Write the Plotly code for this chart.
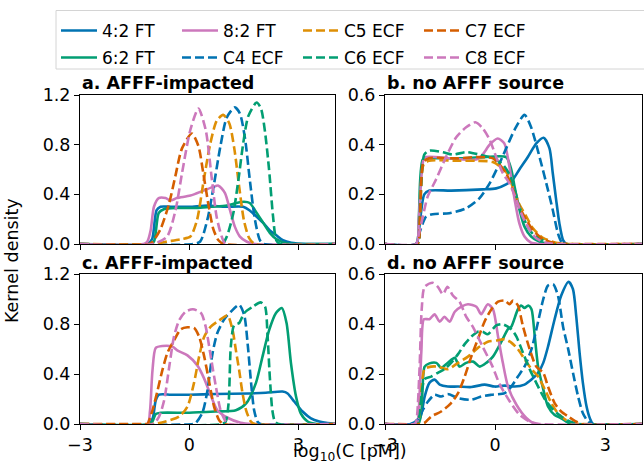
import plotly.graph_objects as go

# ---------------- data ----------------
SERIES = ["4:2 FT", "6:2 FT", "8:2 FT", "C4 ECF", "C5 ECF", "C6 ECF", "C7 ECF", "C8 ECF"]
COLORS = ["#0173b2", "#029e73", "#cc78bc", "#0173b2", "#de8f05", "#029e73", "#d55e00", "#cc78bc"]
DASHED = [False, False, False, True, True, True, True, True]
LEGEND_ROW = ["legend", "legend2", "legend", "legend2", "legend", "legend2", "legend", "legend2"]
TITLES = ["a. AFFF-impacted", "b. no AFFF source", "c. AFFF-impacted", "d. no AFFF source"]
X_TICKS = [-3, 0, 3]

# panel a
a_x_ft42 = [-3, -1.15, -1.02, -0.9, -0.79, -0.5, 0, 0.5, 1.0, 1.48, 1.66, 1.85, 2.03, 2.21, 2.39, 2.57, 2.8, 3.2, 4]
a_y_ft42 = [0, 0, 0.04, 0.27, 0.30, 0.30, 0.30, 0.31, 0.30, 0.30, 0.27, 0.22, 0.17, 0.11, 0.07, 0.03, 0.01, 0, 0]
a_x_ft62 = [-3, -1.1, -0.97, -0.84, -0.7, -0.3, 0.2, 0.6, 1.03, 1.3, 1.5, 1.66, 1.85, 2.03, 2.21, 2.39, 2.66, 3.0, 4]
a_y_ft62 = [0, 0, 0.02, 0.25, 0.28, 0.29, 0.29, 0.30, 0.31, 0.33, 0.34, 0.33, 0.25, 0.17, 0.09, 0.04, 0.005, 0, 0]
a_x_ft82 = [-3, -1.25, -1.15, -1.06, -0.97, -0.84, -0.65, -0.52, -0.34, 0.03, 0.39, 0.66, 0.8, 0.98, 1.12, 1.25, 1.39, 1.57, 1.8, 4]
a_y_ft82 = [0, 0, 0.02, 0.11, 0.30, 0.37, 0.37, 0.35, 0.37, 0.39, 0.43, 0.46, 0.47, 0.41, 0.27, 0.14, 0.06, 0.02, 0, 0]
a_x_c4 = [-3, 0.1, 0.3, 0.5, 0.66, 0.85, 1.03, 1.25, 1.39, 1.53, 1.66, 1.8, 1.94, 2.05, 4]
a_y_c4 = [0, 0, 0.02, 0.2, 0.45, 0.78, 1.02, 1.10, 1.05, 0.85, 0.52, 0.2, 0.03, 0, 0]
a_x_c5 = [-3, -1.0, -0.6, -0.2, 0.03, 0.21, 0.39, 0.57, 0.75, 0.93, 1.1, 1.24, 1.37, 1.5, 1.64, 1.8, 4]
a_y_c5 = [0, 0, 0.02, 0.04, 0.06, 0.19, 0.50, 0.80, 0.99, 1.04, 0.97, 0.76, 0.46, 0.19, 0.05, 0, 0]
a_x_c6 = [-3, 0.9, 1.03, 1.21, 1.35, 1.48, 1.62, 1.85, 1.97, 2.08, 2.19, 2.3, 2.39, 2.5, 4]
a_y_c6 = [0, 0, 0.06, 0.25, 0.52, 0.81, 1.03, 1.14, 1.09, 0.9, 0.6, 0.22, 0.03, 0, 0]
a_x_c7 = [-3, -1.1, -1.0, -0.79, -0.56, -0.38, -0.2, 0.07, 0.25, 0.39, 0.53, 0.66, 0.8, 0.95, 4]
a_y_c7 = [0, 0, 0.02, 0.12, 0.32, 0.55, 0.77, 0.89, 0.79, 0.56, 0.31, 0.12, 0.03, 0, 0]
a_x_c8 = [-3, -1.0, -0.61, -0.38, -0.2, 0.03, 0.25, 0.45, 0.62, 0.75, 0.89, 1.0, 4]
a_y_c8 = [0, 0, 0.06, 0.27, 0.57, 0.92, 1.09, 0.92, 0.52, 0.22, 0.06, 0, 0]

# panel b
b_x_ft42 = [-3, -2.15, -2.08, -1.93, -1.79, -1.2, -0.34, 0.03, 0.3, 0.48, 0.66, 0.89, 1.12, 1.32, 1.48, 1.57, 1.66, 1.75, 1.85, 1.95, 4]
b_y_ft42 = [0, 0, 0.05, 0.20, 0.215, 0.215, 0.22, 0.224, 0.24, 0.26, 0.30, 0.35, 0.405, 0.428, 0.385, 0.285, 0.18, 0.083, 0.016, 0, 0]
b_x_ft62 = [-3, -2.15, -2.08, -1.97, -1.8, -1.0, -0.3, 0.3, 0.44, 0.53, 0.66, 0.8, 0.98, 1.2, 1.5, 4]
b_y_ft62 = [0, 0, 0.1, 0.34, 0.345, 0.345, 0.35, 0.35, 0.30, 0.23, 0.14, 0.07, 0.03, 0.01, 0, 0]
b_x_ft82 = [-3, -2.15, -2.08, -1.95, -1.88, -1.2, -0.52, -0.34, -0.15, 0.07, 0.25, 0.39, 0.53, 0.66, 0.8, 0.98, 1.2, 4]
b_y_ft82 = [0, 0, 0.1, 0.34, 0.35, 0.345, 0.34, 0.36, 0.40, 0.425, 0.405, 0.31, 0.18, 0.083, 0.03, 0.005, 0, 0]
b_x_c4 = [-3, -2.15, -2.05, -1.88, -1.7, -1.25, -0.79, -0.43, -0.15, 0.12, 0.3, 0.53, 0.8, 0.98, 1.21, 1.44, 1.57, 1.71, 1.8, 1.9, 4]
b_y_c4 = [0, 0, 0.05, 0.11, 0.12, 0.124, 0.144, 0.184, 0.244, 0.325, 0.385, 0.46, 0.52, 0.47, 0.35, 0.217, 0.137, 0.043, 0.01, 0, 0]
b_x_c5 = [-3, -2.12, -2.05, -1.95, -1.8, -1.0, -0.5, -0.06, 0.3, 0.48, 0.66, 0.85, 1.03, 1.3, 1.66, 2.0, 4]
b_y_c5 = [0, 0, 0.1, 0.32, 0.335, 0.335, 0.335, 0.33, 0.29, 0.23, 0.16, 0.11, 0.063, 0.025, 0.005, 0, 0]
b_x_c6 = [-3, -2.12, -2.05, -1.93, -1.79, -1.43, -1.15, -0.79, -0.43, -0.06, 0.21, 0.39, 0.53, 0.66, 0.85, 1.03, 1.3, 1.6, 4]
b_y_c6 = [0, 0, 0.12, 0.36, 0.376, 0.37, 0.36, 0.37, 0.36, 0.345, 0.32, 0.28, 0.22, 0.15, 0.08, 0.04, 0.015, 0, 0]
b_x_c7 = [-3, -2.12, -2.05, -1.95, -1.8, -1.0, -0.5, -0.06, 0.12, 0.3, 0.48, 0.66, 0.85, 1.03, 1.3, 1.66, 2.0, 4]
b_y_c7 = [0, 0, 0.1, 0.33, 0.345, 0.345, 0.35, 0.345, 0.32, 0.285, 0.22, 0.15, 0.097, 0.056, 0.02, 0.003, 0, 0]
b_x_c8 = [-3, -2.15, -2.11, -1.97, -1.84, -1.61, -1.34, -1.06, -0.79, -0.54, -0.34, -0.15, 0.03, 0.21, 0.39, 0.57, 0.75, 0.94, 1.12, 1.39, 1.7, 4]
b_y_c8 = [0, 0, 0.02, 0.11, 0.19, 0.26, 0.35, 0.43, 0.47, 0.49, 0.466, 0.42, 0.35, 0.285, 0.244, 0.18, 0.11, 0.056, 0.023, 0.005, 0, 0]

# panel c
c_x_ft42 = [-3, -1.1, -1.0, -0.92, -0.83, -0.5, 0, 0.73, 1.64, 2.1, 2.56, 2.7, 2.88, 3.11, 3.34, 3.57, 3.8, 4]
c_y_ft42 = [0, 0, 0.05, 0.19, 0.235, 0.235, 0.235, 0.24, 0.245, 0.25, 0.26, 0.245, 0.18, 0.10, 0.045, 0.02, 0.008, 0.003]
c_x_ft62 = [-3, -1.1, -1.01, -0.92, -0.78, 0, 0.73, 1.28, 1.56, 1.83, 2.01, 2.19, 2.38, 2.54, 2.67, 2.79, 2.93, 3.06, 3.25, 3.5, 4]
c_y_ft62 = [0, 0, 0.02, 0.08, 0.09, 0.09, 0.10, 0.11, 0.165, 0.33, 0.54, 0.75, 0.89, 0.93, 0.81, 0.49, 0.22, 0.085, 0.02, 0, 0]
c_x_ft82 = [-3, -1.15, -1.08, -1.01, -0.92, -0.74, -0.46, -0.33, -0.05, 0.22, 0.4, 0.59, 0.77, 1.05, 1.41, 1.7, 4]
c_y_ft82 = [0, 0, 0.1, 0.43, 0.61, 0.625, 0.62, 0.59, 0.55, 0.47, 0.37, 0.23, 0.11, 0.05, 0.01, 0, 0]
c_x_c4 = [-3, 0.1, 0.18, 0.36, 0.5, 0.64, 0.77, 0.96, 1.14, 1.37, 1.51, 1.6, 1.69, 1.78, 1.87, 1.95, 4]
c_y_c4 = [0, 0, 0.01, 0.09, 0.27, 0.57, 0.73, 0.84, 0.90, 0.955, 0.87, 0.65, 0.35, 0.11, 0.02, 0, 0]
c_x_c5 = [-3, -1.0, -0.65, -0.28, -0.05, 0.13, 0.27, 0.41, 0.59, 0.82, 1.05, 1.19, 1.28, 1.37, 1.46, 1.56, 1.69, 1.8, 4]
c_y_c5 = [0, 0, 0.02, 0.06, 0.14, 0.33, 0.54, 0.70, 0.78, 0.83, 0.87, 0.75, 0.59, 0.43, 0.25, 0.11, 0.02, 0, 0]
c_x_c6 = [-3, 0.9, 1.0, 1.08, 1.14, 1.23, 1.37, 1.51, 1.74, 1.96, 2.08, 2.15, 2.21, 2.28, 2.35, 2.45, 4]
c_y_c6 = [0, 0, 0.02, 0.17, 0.62, 0.79, 0.81, 0.89, 0.94, 0.975, 0.94, 0.70, 0.38, 0.11, 0.02, 0, 0]
c_x_c7 = [-3, -1.2, -1.15, -1.01, -0.87, -0.74, -0.6, -0.42, -0.23, -0.05, 0.13, 0.27, 0.41, 0.55, 0.68, 0.82, 0.95, 4]
c_y_c7 = [0, 0, 0.0, 0.11, 0.27, 0.43, 0.57, 0.67, 0.76, 0.775, 0.77, 0.70, 0.54, 0.33, 0.14, 0.03, 0, 0]
c_x_c8 = [-3, -1.0, -0.83, -0.69, -0.55, -0.42, -0.28, -0.1, 0.1, 0.32, 0.45, 0.59, 0.73, 0.86, 1.0, 1.1, 4]
c_y_c8 = [0, 0, 0.06, 0.19, 0.46, 0.70, 0.83, 0.90, 0.92, 0.89, 0.78, 0.54, 0.30, 0.11, 0.02, 0, 0]

# panel d
d_x_ft42 = [-3, -2.3, -2.1, -2.01, -1.92, -1.79, -1.65, -1.51, -1.29, -1.01, -0.65, -0.29, -0.01, 0.26, 0.53, 0.8, 0.99, 1.17, 1.31, 1.44, 1.62, 1.8, 2.0, 2.12, 2.21, 2.3, 2.39, 2.49, 2.58, 2.67, 4]
d_y_ft42 = [0, 0, 0.01, 0.04, 0.11, 0.165, 0.178, 0.158, 0.15, 0.15, 0.148, 0.158, 0.15, 0.154, 0.15, 0.158, 0.178, 0.205, 0.245, 0.31, 0.42, 0.515, 0.57, 0.54, 0.43, 0.285, 0.165, 0.07, 0.023, 0, 0]
d_x_ft62 = [-3, -2.1, -2.01, -1.92, -1.79, -1.6, -1.47, -1.29, -1.1, -0.97, -0.79, -0.6, -0.42, -0.24, -0.06, 0.17, 0.35, 0.44, 0.62, 0.71, 0.8, 0.9, 0.99, 1.08, 1.17, 1.31, 1.44, 1.62, 1.8, 1.99, 2.2, 4]
d_y_ft62 = [0, 0, 0.05, 0.23, 0.243, 0.245, 0.225, 0.245, 0.265, 0.23, 0.245, 0.25, 0.23, 0.245, 0.27, 0.33, 0.38, 0.39, 0.46, 0.475, 0.465, 0.475, 0.46, 0.35, 0.23, 0.14, 0.07, 0.036, 0.023, 0.005, 0, 0]
d_x_ft82 = [-3, -2.15, -2.1, -2.01, -1.94, -1.79, -1.65, -1.51, -1.38, -1.24, -1.1, -0.92, -0.74, -0.51, -0.38, -0.2, -0.06, 0.08, 0.21, 0.35, 0.58, 0.85, 1.1, 4]
d_y_ft82 = [0, 0, 0.02, 0.29, 0.42, 0.42, 0.44, 0.41, 0.43, 0.41, 0.45, 0.47, 0.48, 0.47, 0.44, 0.48, 0.46, 0.35, 0.245, 0.15, 0.077, 0.024, 0, 0]
d_x_c4 = [-3, -2.3, -2.1, -1.97, -1.83, -1.65, -1.47, -1.29, -1.01, -0.65, -0.38, -0.1, 0.26, 0.44, 0.62, 0.8, 0.99, 1.17, 1.31, 1.44, 1.58, 1.71, 1.85, 1.99, 2.12, 2.26, 2.39, 2.53, 2.65, 4]
d_y_c4 = [0, 0, 0.02, 0.057, 0.09, 0.117, 0.11, 0.12, 0.104, 0.097, 0.11, 0.117, 0.124, 0.15, 0.19, 0.23, 0.30, 0.41, 0.50, 0.555, 0.56, 0.515, 0.39, 0.30, 0.205, 0.11, 0.043, 0.01, 0, 0]
d_x_c5 = [-3, -2.12, -2.05, -1.92, -1.74, -1.56, -1.29, -1.01, -0.74, -0.47, -0.2, 0.05, 0.26, 0.44, 0.62, 0.8, 0.99, 1.17, 1.35, 1.53, 1.71, 1.9, 2.08, 2.3, 4]
d_y_c5 = [0, 0, 0.05, 0.22, 0.23, 0.23, 0.22, 0.245, 0.27, 0.305, 0.33, 0.335, 0.34, 0.326, 0.30, 0.26, 0.22, 0.19, 0.14, 0.084, 0.043, 0.019, 0.005, 0, 0]
d_x_c6 = [-3, -2.12, -2.06, -1.92, -1.74, -1.56, -1.38, -1.2, -1.01, -0.83, -0.65, -0.47, -0.34, -0.2, 0.03, 0.2, 0.44, 0.58, 0.76, 0.94, 1.12, 1.35, 1.58, 1.8, 2.03, 2.3, 4]
d_y_c6 = [0, 0, 0.04, 0.18, 0.19, 0.205, 0.22, 0.245, 0.28, 0.32, 0.35, 0.37, 0.37, 0.36, 0.395, 0.40, 0.38, 0.35, 0.285, 0.22, 0.165, 0.10, 0.057, 0.03, 0.01, 0, 0]
d_x_c7 = [-3, -2.1, -1.92, -1.74, -1.47, -1.2, -1.01, -0.83, -0.65, -0.47, -0.29, -0.1, 0.08, 0.26, 0.39, 0.49, 0.62, 0.76, 0.94, 1.12, 1.31, 1.44, 1.62, 1.8, 1.99, 2.17, 2.35, 4]
d_y_c7 = [0, 0, 0.005, 0.03, 0.05, 0.084, 0.124, 0.19, 0.27, 0.34, 0.41, 0.46, 0.49, 0.495, 0.48, 0.495, 0.475, 0.39, 0.30, 0.23, 0.205, 0.15, 0.084, 0.05, 0.03, 0.013, 0, 0]
d_x_c8 = [-3, -2.2, -2.15, -2.06, -2.0, -1.92, -1.7, -1.56, -1.42, -1.3, -1.15, -0.97, -0.79, -0.61, -0.34, -0.07, 0.12, 0.4, 0.67, 0.94, 1.2, 4]
d_y_c8 = [0, 0, 0.01, 0.22, 0.46, 0.55, 0.566, 0.55, 0.52, 0.55, 0.515, 0.49, 0.43, 0.39, 0.31, 0.23, 0.16, 0.09, 0.036, 0.01, 0, 0]

PANELS = [
    [(a_x_ft42, a_y_ft42), (a_x_ft62, a_y_ft62), (a_x_ft82, a_y_ft82), (a_x_c4, a_y_c4),
     (a_x_c5, a_y_c5), (a_x_c6, a_y_c6), (a_x_c7, a_y_c7), (a_x_c8, a_y_c8)],
    [(b_x_ft42, b_y_ft42), (b_x_ft62, b_y_ft62), (b_x_ft82, b_y_ft82), (b_x_c4, b_y_c4),
     (b_x_c5, b_y_c5), (b_x_c6, b_y_c6), (b_x_c7, b_y_c7), (b_x_c8, b_y_c8)],
    [(c_x_ft42, c_y_ft42), (c_x_ft62, c_y_ft62), (c_x_ft82, c_y_ft82), (c_x_c4, c_y_c4),
     (c_x_c5, c_y_c5), (c_x_c6, c_y_c6), (c_x_c7, c_y_c7), (c_x_c8, c_y_c8)],
    [(d_x_ft42, d_y_ft42), (d_x_ft62, d_y_ft62), (d_x_ft82, d_y_ft82), (d_x_c4, d_y_c4),
     (d_x_c5, d_y_c5), (d_x_c6, d_y_c6), (d_x_c7, d_y_c7), (d_x_c8, d_y_c8)],
]
Y_MAX = [1.2, 0.6, 1.2, 0.6]
Y_DTICK = [0.4, 0.2, 0.4, 0.2]

# ---------------- layout geometry (pixels) ----------------
W, H = 644, 466
ML, MR = 56, 2
PW = W - ML - MR
X_PX = [(80, 335), (385, 642), (80, 335), (385, 642)]
Y_PX = [(95, 244), (95, 244), (274.3, 424), (274.3, 424)]
FONT = "DejaVu Sans"


def fx(px):
    return (px - ML) / PW


def fy(py):
    return 1 - py / H


fig = go.Figure()
for p, panel in enumerate(PANELS):
    sfx = "" if p == 0 else str(p + 1)
    for i, (xs, ys) in enumerate(panel):
        fig.add_trace(go.Scatter(
            x=xs, y=ys, mode="lines", name=SERIES[i],
            line=dict(color=COLORS[i], width=2.6, shape="spline", smoothing=0.7,
                      dash="9px,4px" if DASHED[i] else "solid"),
            xaxis="x" + sfx, yaxis="y" + sfx,
            showlegend=(p == 0), legend=LEGEND_ROW[i], hoverinfo="skip",
        ))

legend_common = dict(orientation="h", x=0, xanchor="left", yanchor="middle",
                     entrywidth=70, entrywidthmode="pixels", itemwidth=36,
                     bgcolor="rgba(0,0,0,0)", borderwidth=0,
                     font=dict(family=FONT, size=17, color="black"))

layout = dict(
    width=W, height=H, margin=dict(l=ML, r=MR, t=0, b=0),
    paper_bgcolor="white", plot_bgcolor="white", template="none",
    font=dict(family=FONT, size=17.5, color="black"),
    showlegend=True,
    legend=dict(legend_common, y=fy(31)),
    legend2=dict(legend_common, y=fy(58)),
)
annotations = []
for p in range(4):
    sfx = "" if p == 0 else str(p + 1)
    x0, x1 = X_PX[p]
    y0, y1 = Y_PX[p]
    layout["xaxis" + sfx] = dict(
        domain=[fx(x0), fx(x1)], range=[-3, 4], anchor="y" + sfx,
        tickvals=X_TICKS, showticklabels=(p >= 2), ticks="outside", ticklen=5,
        tickwidth=1, tickcolor="black", showline=True, linecolor="black", linewidth=1,
        mirror=True, showgrid=False, zeroline=False, automargin=False,
        tickfont=dict(size=17.5),
    )
    layout["yaxis" + sfx] = dict(
        domain=[fy(y1), fy(y0)], range=[0, Y_MAX[p]], anchor="x" + sfx,
        dtick=Y_DTICK[p], tick0=0, tickformat=".1f", ticks="outside", ticklen=5,
        tickwidth=1, tickcolor="black", showline=True, linecolor="black", linewidth=1,
        mirror=True, showgrid=False, zeroline=False, automargin=False,
        tickfont=dict(size=17.5),
    )
    annotations.append(dict(
        text="<b>" + TITLES[p] + "</b>", xref="paper", yref="paper",
        x=fx(x0), y=fy(y0 + 0.5), xanchor="left", yanchor="bottom", showarrow=False,
        font=dict(family=FONT, size=17.5, color="black"),
    ))

annotations.append(dict(text="Kernel density", xref="paper", yref="paper", x=fx(12), y=fy(260),
                        textangle=-90, showarrow=False, xanchor="center", yanchor="middle",
                        font=dict(family=FONT, size=17.5, color="black")))
annotations.append(dict(text="log<sub>10</sub>(C [pM])", xref="paper", yref="paper", x=fx(350),
                        y=fy(466), showarrow=False, xanchor="center", yanchor="bottom",
                        font=dict(family=FONT, size=17.5, color="black")))
layout["annotations"] = annotations
layout["shapes"] = [dict(type="rect", xref="paper", yref="paper", x0=fx(56), x1=fx(664),
                         y0=fy(69), y1=fy(10.5), line=dict(color="#d4d4d4", width=1),
                         fillcolor="rgba(0,0,0,0)", layer="above")]
fig.update_layout(**layout)
fig.write_html("out.html", config={"displayModeBar": False},
               post_script="document.body.style.margin='0';")
